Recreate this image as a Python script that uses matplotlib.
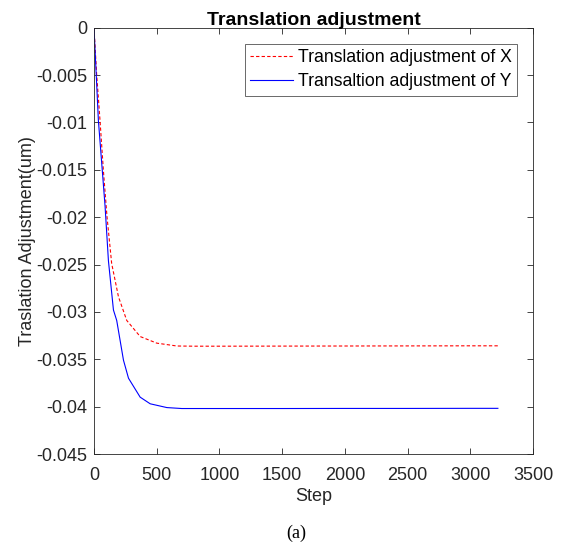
import matplotlib
matplotlib.use("Agg")
import matplotlib.pyplot as plt

plt.rcParams['font.family'] = ['Liberation Sans', 'DejaVu Sans']

# Translation adjustment of X (red dashed)
step_x = [0, 21, 48, 75, 104, 141, 195, 261, 368, 501, 661, 800, 1000, 1500, 2000, 2500, 3000, 3220]
adj_x = [0, -0.0049, -0.0098, -0.0151, -0.0200, -0.0249, -0.0284, -0.0309, -0.0326, -0.0333, -0.0336,
         -0.03362, -0.03362, -0.03361, -0.03360, -0.03359, -0.03358, -0.03358]

# Translation adjustment of Y (blue solid)
step_y = [0, 35, 88, 115, 155, 181, 235, 275, 368, 448, 581, 700, 1000, 1500, 2000, 2500, 3000, 3220]
adj_y = [0, -0.0098, -0.0188, -0.0246, -0.0298, -0.0309, -0.0351, -0.0370, -0.0390, -0.0397, -0.0401,
         -0.04020, -0.04020, -0.04020, -0.04019, -0.04019, -0.04018, -0.04018]

xticks = [0, 500, 1000, 1500, 2000, 2500, 3000, 3500]
yticks = [0, -0.005, -0.01, -0.015, -0.02, -0.025, -0.03, -0.035, -0.04, -0.045]
ytick_labels = ['0', '-0.005', '-0.01', '-0.015', '-0.02', '-0.025', '-0.03', '-0.035', '-0.04', '-0.045']

fig = plt.figure(figsize=(5.64, 5.46), dpi=100)
ax = fig.add_axes([94/564, 1 - 454/546, (533-94)/564, (454-27.7)/546])

ax.plot(step_x, adj_x, color='#ff0000', linestyle=(0, (3, 2)), linewidth=0.8,
        label='Translation adjustment of X')
ax.plot(step_y, adj_y, color='#0000ff', linestyle='-', linewidth=0.8,
        label='Transaltion adjustment of Y')

ax.set_xlim(0, 3500)
ax.set_ylim(-0.045, 0)
ax.set_xticks(xticks)
ax.set_xticklabels([str(t) for t in xticks])
ax.set_yticks(yticks)
ax.set_yticklabels(ytick_labels)

ax.tick_params(direction='in', length=4, width=0.6, labelsize=13, colors='#262626',
               top=True, right=True, labelcolor='#262626')
ax.tick_params(axis='x', pad=9.5)
ax.tick_params(axis='y', pad=5)
for s in ax.spines.values():
    s.set_linewidth(0.6)
    s.set_color('#262626')

ax.set_title('Translation adjustment', fontsize=14, fontweight='bold', pad=2)
ax.set_xlabel('Step', fontsize=13, color='#262626', labelpad=3)
ax.set_ylabel('Traslation Adjustment(um)', fontsize=13, color='#262626', labelpad=0)

leg = ax.legend(loc='upper right', fontsize=12.7, frameon=True, fancybox=False,
                edgecolor='#262626', borderpad=0.3, handlelength=2.4, handletextpad=0.3,
                labelspacing=0.4, borderaxespad=0, bbox_to_anchor=(0.964, 0.962))
leg.get_frame().set_linewidth(0.6)

fig.text(296/564, 1 - 533/546, '(a)', fontsize=13, ha='center', va='center',
         family=['Liberation Serif', 'DejaVu Serif'])

fig.savefig('out.png', dpi=100)
